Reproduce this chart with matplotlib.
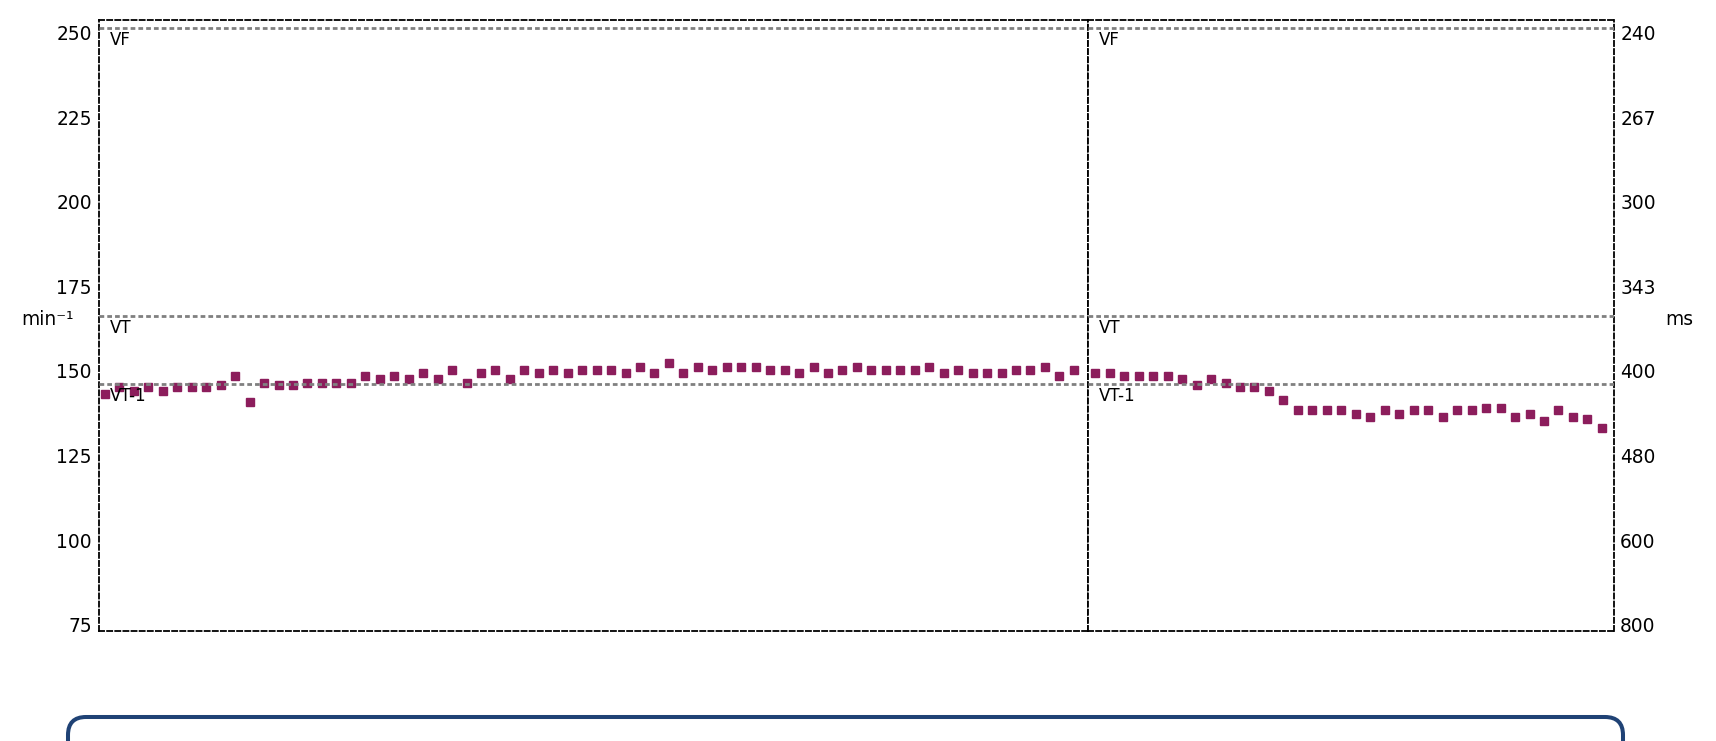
import numpy as np
import matplotlib
matplotlib.use("Agg")
import matplotlib.pyplot as plt
from matplotlib.patches import FancyBboxPatch
from matplotlib.transforms import IdentityTransform

# heart rate per beat group (min^-1), left and right panels
left_hr = [143.3, 145.3, 144.1, 145.3, 144.1, 145.3, 145.3, 145.3, 146.0, 148.4,
           140.8, 146.3, 145.8, 145.8, 146.3, 146.3, 146.3, 146.3, 148.4, 147.5,
           148.4, 147.5, 149.5, 147.5, 150.4, 146.3, 149.5, 150.4, 147.5, 150.4,
           149.5, 150.4, 149.5, 150.4, 150.4, 150.4, 149.5, 151.3, 149.5, 152.4,
           149.5, 151.3, 150.4, 151.3, 151.3, 151.3, 150.4, 150.4, 149.5, 151.3,
           149.5, 150.4, 151.3, 150.4, 150.4, 150.4, 150.4, 151.3, 149.5, 150.4,
           149.5, 149.5, 149.5, 150.4, 150.4, 151.3, 148.4, 150.4]
right_hr = [149.5, 149.5, 148.5, 148.5, 148.5, 148.5, 147.5, 145.8, 147.5, 146.5,
            145.3, 145.3, 144.0, 141.3, 138.4, 138.4, 138.4, 138.4, 137.4, 136.3,
            138.4, 137.4, 138.4, 138.4, 136.3, 138.4, 138.4, 139.1, 139.1, 136.3,
            137.4, 135.3, 138.4, 136.3, 135.8, 133.0]

zone_names = ["VF", "VT", "VT-1"]
zone_limits = [251.4, 166.2, 146.2]

bpm_ticks = [75, 100, 125, 150, 175, 200, 225, 250]
ms_labels = ["800", "600", "480", "400", "343", "300", "267", "240"]

W, H = 1716, 741
fig = plt.figure(figsize=(W / 100, H / 100), dpi=100)

bot = 1 - 631 / H
hgt = 611 / H
ax1 = fig.add_axes([98.5 / W, bot, (1087.7 - 98.5) / W, hgt])
ax2 = fig.add_axes([1087.7 / W, bot, (1613.5 - 1087.7) / W, hgt])

mcol = "#8c1d5c"
ax1.plot(np.arange(len(left_hr)), left_hr, "s", ms=5.3, color=mcol, zorder=2)
ax2.plot(np.arange(len(right_hr)), right_hr, "s", ms=5.3, color=mcol, zorder=2)

ax1.set_xlim(-0.45, 67.96)
ax2.set_xlim(-0.52, 35.8)

for ax in (ax1, ax2):
    ax.set_ylim(73.1, 253.8)
    ax.set_xticks([])
    for s in ax.spines.values():
        s.set_linestyle((0, (2.8, 1.7)))
        s.set_linewidth(1.3)
        s.set_color("black")
    for name, lim in zip(zone_names, zone_limits):
        ax.axhline(lim, color="#808080", lw=2.0, ls=(0, (1.7, 1.1)), zorder=3)
        ax.annotate(name, xy=(0, lim), xycoords=("axes fraction", "data"),
                    xytext=(11, -3), textcoords="offset pixels",
                    ha="left", va="top", fontsize=12, zorder=4)

ax1.set_yticks(bpm_ticks)
ax1.tick_params(axis="y", length=0, pad=4.7, labelsize=13.4)

ax2.set_yticks(bpm_ticks)
ax2.set_yticklabels(ms_labels)
ax2.yaxis.tick_right()
ax2.tick_params(axis="y", length=0, pad=4.8, labelsize=13.4)

fig.text(74 / W, 1 - 319.5 / H, "min⁻¹", ha="right", va="center", fontsize=13.4)
fig.text(1665 / W, 1 - 319.5 / H, "ms", ha="left", va="center", fontsize=13.4)

# card below the chart
box = FancyBboxPatch((68, -60), 1555, 84, boxstyle="round,pad=0,rounding_size=18",
                     transform=IdentityTransform(), fill=False,
                     edgecolor="#1f4275", lw=2.9)
fig.add_artist(box)

fig.savefig("out.png", dpi=100)
